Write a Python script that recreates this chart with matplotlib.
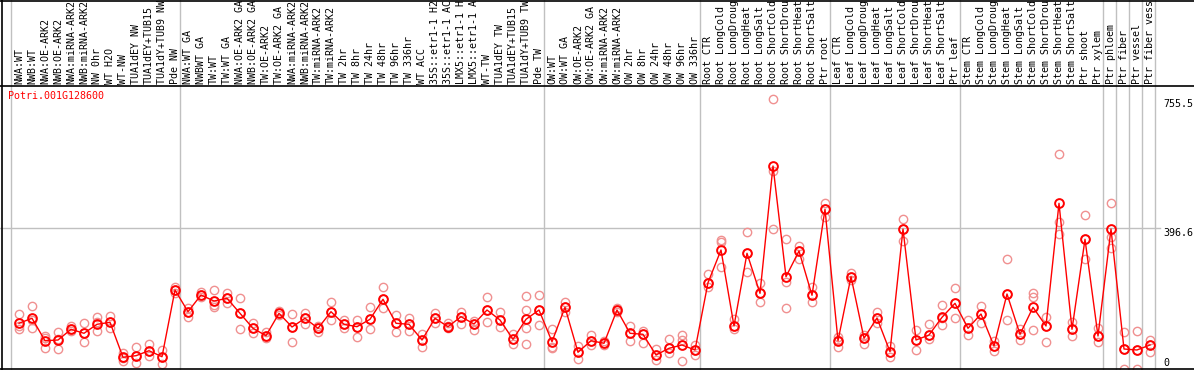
import numpy as np
import matplotlib
matplotlib.use('Agg')
import matplotlib.pyplot as plt
import matplotlib.transforms as mtransforms
from matplotlib.lines import Line2D

# sample names, left to right
labels = [
    "NWA:WT", "NWB:WT", "NWA:OE-ARK2", "NWB:OE-ARK2", "NWA:miRNA-ARK2", "NWB:miRNA-ARK2",
    "NW 0hr", "WT H2O", "WT-NW", "TUA1dEY NW", "TUA1dEY+TUB15", "TUA1dY+TUB9 NW", "Pde NW",
    "NWA:WT GA", "NWBWT GA", "TW:WT", "TW:WT GA", "NWA:OE-ARK2 GA", "NWB:OE-ARK2 GA",
    "TW:OE-ARK2", "TW:OE-ARK2 GA", "NWA:miRNA-ARK2", "NWB:miRNA-ARK2", "TW:miRNA-ARK2",
    "TW:miRNA-ARK2", "TW 2hr", "TW 8hr", "TW 24hr", "TW 48hr", "TW 96hr", "TW 336hr",
    "WT ACC", "35S::etr1-1 H2", "35S::etr1-1 AC", "LMX5::etr1-1 H", "LMX5::etr1-1 A",
    "WT-TW", "TUA1dEY TW", "TUA1dEY+TUB15", "TUA1dY+TUB9 TW", "Pde TW",
    "OW:WT", "OW:WT GA", "OW:OE-ARK2", "OW:OE-ARK2 GA", "OW:miRNA-ARK2", "OW:miRNA-ARK2",
    "OW 2hr", "OW 8hr", "OW 24hr", "OW 48hr", "OW 96hr", "OW 336hr",
    "Root CTR", "Root LongCold", "Root LongDroug", "Root LongHeat", "Root LongSalt",
    "Root ShortCold", "Root ShortDrou", "Root ShortHeat", "Root ShortSalt", "Ptr root",
    "Leaf CTR", "Leaf LongCold", "Leaf LongDroug", "Leaf LongHeat", "Leaf LongSalt",
    "Leaf ShortCold", "Leaf ShortDrou", "Leaf ShortHeat", "Leaf ShortSalt", "Ptr leaf",
    "Stem CTR", "Stem LongCold", "Stem LongDroug", "Stem LongHeat", "Stem LongSalt",
    "Stem ShortCold", "Stem ShortDrou", "Stem ShortHeat", "Stem ShortSalt", "Ptr shoot",
    "Ptr xylem", "Ptr phloem", "Ptr fiber", "Ptr vessel", "Ptr fiber vess",
]

# mean expression per sample
means = [
    132.6, 146.5, 84.2, 86.1, 115.9, 104.8, 129.8, 135.3, 38.1, 42.5, 56.4, 39.7, 225.1,
    164.8, 211.2, 194.5, 202.0, 160.3, 118.7, 98.1, 160.3, 122.3, 146.5, 118.7, 164.8,
    129.8, 123.1, 143.7, 199.3, 132.6, 129.8, 86.1, 146.5, 123.1, 150.9, 130.6, 169.5,
    141.7, 88.1, 143.7, 169.5,
    81.4, 177.0, 52.0, 84.2, 77.0, 169.5, 104.8, 102.0, 44.5, 63.1, 72.3, 58.4,
    245.4, 336.3, 125.1, 327.1, 215.9, 569.7, 262.1, 333.5, 210.4, 449.4,
    84.2, 262.1, 90.9, 147.3, 53.6, 394.6, 86.1, 100.0, 149.2, 188.1,
    118.7, 158.4, 69.5, 214.0, 102.0, 177.0, 125.1, 466.0, 115.9, 366.0, 97.3,
    394.6, 61.1, 58.4, 72.3,
]

# individual replicates per sample
reps = [
    [158.4, 125.1, 116.7], [180.6, 141.7, 119.5], [97.3, 91.7, 63.9], [108.4, 88.9, 61.1],
    [125.1, 116.7, 111.2], [133.4, 105.6, 80.6], [150.1, 136.2, 111.2], [152.8, 136.2, 119.5],
    [50.0, 36.1, 27.8], [66.7, 41.7, 22.2], [75.0, 55.6, 41.7], [58.4, 38.9, 19.5],
    [233.4, 225.1, 216.8],
    [175.1, 164.0, 150.1], [219.5, 211.2, 205.6], [225.1, 183.4, 177.9], [216.8, 202.9, 189.0],
    [202.9, 161.2, 116.7], [133.4, 119.5, 105.6], [108.4, 97.3, 91.7], [166.7, 161.2, 155.6],
    [158.4, 122.3, 80.6], [161.2, 147.3, 130.6], [125.1, 119.5, 108.4], [191.8, 164.0, 141.7],
    [141.7, 130.6, 119.5], [141.7, 122.3, 94.5], [177.9, 144.5, 116.7], [233.4, 200.1, 175.1],
    [155.6, 133.4, 108.4], [147.3, 130.6, 111.2], [102.8, 86.1, 66.7], [161.2, 147.3, 133.4],
    [133.4, 125.1, 119.5], [164.0, 150.1, 130.6], [139.0, 130.6, 113.9], [205.6, 169.5, 136.2],
    [164.0, 141.7, 122.3], [102.8, 88.9, 75.0], [208.4, 169.5, 119.5, 75.0], [211.2, 169.5, 127.8],
    [116.7, 66.7, 63.9], [191.8, 177.9, 164.0], [69.5, 52.8, 33.3], [100.0, 83.4, 72.3],
    [83.4, 77.8, 72.3], [175.1, 169.5, 164.0], [125.1, 105.6, 83.4], [111.2, 102.8, 77.8],
    [61.1, 44.5, 30.6], [88.9, 63.9, 50.0], [100.0, 86.1, 27.8], [72.3, 58.4, 44.5],
    [269.6, 244.6, 233.4], [364.0, 358.5, 289.0], [144.5, 125.1, 116.7], [386.3, 327.9, 275.1],
    [244.6, 216.8, 191.8], [755.5, 555.8, 394.6], [366.8, 247.3, 175.1], [347.4, 333.5, 311.2],
    [233.4, 211.2, 191.8], [466.9, 450.2, 428.0],
    [94.5, 86.1, 66.7], [272.3, 261.2, 252.9], [100.0, 91.7, 75.0], [164.0, 147.3, 133.4],
    [69.5, 52.8, 38.9], [422.4, 394.6, 361.3], [113.9, 86.1, 58.4], [130.6, 100.0, 88.9],
    [183.4, 147.3, 127.8], [230.7, 189.0, 147.3],
    [141.7, 119.5, 100.0], [180.6, 158.4, 133.4], [83.4, 69.5, 55.6], [311.2, 214.0, 141.7],
    [116.7, 102.8, 86.1], [216.8, 205.6, 113.9], [150.1, 125.1, 80.6], [603.0, 414.1, 380.7],
    [136.2, 116.7, 97.3], [433.5, 366.8, 311.2], [119.5, 97.3, 80.6],
    [466.9, 372.4, 341.8], [108.4, 61.1, 5.6], [111.2, 58.4, 5.6], [86.1, 72.3, 52.8],
]

group_starts = [0, 13, 41, 53, 63, 73, 84, 85, 86, 87, 88]
gene = "Potri.001G128600"
yticks = [0, 396.6, 755.5]
mid_line = 396.6

W, H = 1194, 370
fig = plt.figure(figsize=(W / 100, H / 100), dpi=100)
ax = fig.add_axes([0, 0, 1, 1])
ax.set_xlim(-19 / 13, (W - 19) / 13)
ax.set_ylim(2.78, 371 * 2.779)
ax.axis('off')

mono = 'DejaVu Sans Mono'
grey = '#c0c0c0'

# grid lines
for k in group_starts:
    ax.axvline(k - 0.62, color=grey, lw=1, zorder=1)
ax.axhline(mid_line, xmin=0, xmax=1160 / W, color=grey, lw=1, zorder=1)

# replicates, then mean line
for i, r in enumerate(reps):
    ax.plot([i] * len(r), r, 'o', mfc='none', mec='#f09090', ms=6, mew=1.0,
            zorder=2, clip_on=False)
x = np.arange(len(means))
ax.plot(x, means, '-', color='red', lw=1, zorder=3)
ax.plot(x, means, 'o', mfc='none', mec='red', ms=6.3, mew=1.4, zorder=4)

# sample labels
trans = mtransforms.blended_transform_factory(ax.transData, ax.transAxes)
for i, lab in enumerate(labels):
    ax.text(i, 1 - 83.5 / H, lab, transform=trans, rotation=90, ha='center',
            va='bottom', fontsize=7.2, family=mono, color='black')

# frame lines
fig.add_artist(Line2D([0, 1], [1 - 85.5 / H, 1 - 85.5 / H], color='black', lw=1.2))
fig.add_artist(Line2D([0, 1], [1 - 368.5 / H, 1 - 368.5 / H], color='black', lw=1.2))
fig.add_artist(Line2D([0, 1], [1 - 0.5 / H, 1 - 0.5 / H], color='black', lw=1.2))
fig.add_artist(Line2D([1.5 / W, 1.5 / W], [0, 1], color='black', lw=1.2))

# value labels on the right
ytrans = mtransforms.blended_transform_factory(fig.transFigure, ax.transData)
for v in yticks:
    ax.text(1163 / W, v if v > 0 else 8, f"{v:g}", transform=ytrans, ha='left',
            va='top' if v > 0 else 'bottom', fontsize=7.2, family=mono)

ax.text(8 / W, 1 - 91 / H, gene, transform=ax.transAxes, ha='left', va='top',
        fontsize=7.2, family=mono, color='red')

plt.savefig('out.png', dpi=100)
